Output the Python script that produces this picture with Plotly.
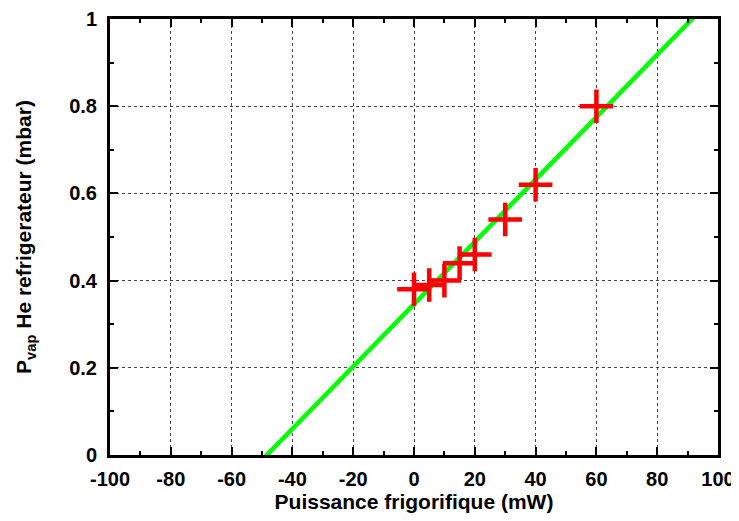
import plotly.graph_objects as go

# Measured data points (Puissance frigorifique in mW, P_vap in mbar)
power_mw = [0, 5, 10, 15, 20, 30, 40, 60]
p_vap = [0.38, 0.39, 0.40, 0.44, 0.46, 0.54, 0.62, 0.80]

# Linear fit parameters
fit_slope = 0.00715
fit_intercept = 0.346
fit_x = [-100, 100]
fit_y = [fit_intercept + fit_slope * x for x in fit_x]

x_ticks = [-100, -80, -60, -40, -20, 0, 20, 40, 60, 80, 100]
y_ticks = [0, 0.2, 0.4, 0.6, 0.8, 1]
y_tick_labels = ["0", "0.2", "0.4", "0.6", "0.8", "1"]

FONT = "Liberation Sans, Arial, sans-serif"

fig = go.Figure()
fig.add_trace(go.Scatter(
    x=fit_x, y=fit_y, mode="lines",
    line=dict(color="#00ff00", width=4.5),
    showlegend=False, hoverinfo="skip"))
fig.add_trace(go.Scatter(
    x=power_mw, y=p_vap, mode="markers",
    marker=dict(symbol="cross-thin", size=24, color="#ff0000",
                line=dict(color="#ff0000", width=4.5)),
    showlegend=False, cliponaxis=False))

axis_common = dict(
    showline=True, linecolor="black", linewidth=3, mirror="allticks",
    ticks="inside", ticklen=8, tickwidth=2, tickcolor="black",
    showgrid=True, gridcolor="#444444", griddash="dot", gridwidth=1,
    zeroline=False, automargin=False,
    tickfont=dict(family=FONT, size=20, color="black", weight="bold"),
)

fig.update_xaxes(
    range=[-100, 100], tickvals=x_ticks, ticktext=[str(v) for v in x_ticks],
    minor=dict(ticks="inside", dtick=10, ticklen=4, tickwidth=2, tickcolor="black", showgrid=False),
    ticklabelstandoff=4,
    title=dict(text="<b>Puissance frigorifique (mW)</b>",
               font=dict(family=FONT, size=21, color="black"), standoff=6),
    **axis_common)
fig.update_yaxes(
    range=[0, 1], tickvals=y_ticks, ticktext=y_tick_labels,
    minor=dict(ticks="inside", dtick=0.1, ticklen=4, tickwidth=2, tickcolor="black", showgrid=False),
    ticklabelstandoff=6,
    title=dict(text="<b>P<sub>vap</sub> He refrigerateur (mbar)</b>",
               font=dict(family=FONT, size=21, color="black"), standoff=32),
    **axis_common)

fig.update_layout(
    width=739, height=521,
    margin=dict(l=102, r=29, t=11, b=74),
    plot_bgcolor="white", paper_bgcolor="white",
    showlegend=False,
)

fig.write_html("out.html")
